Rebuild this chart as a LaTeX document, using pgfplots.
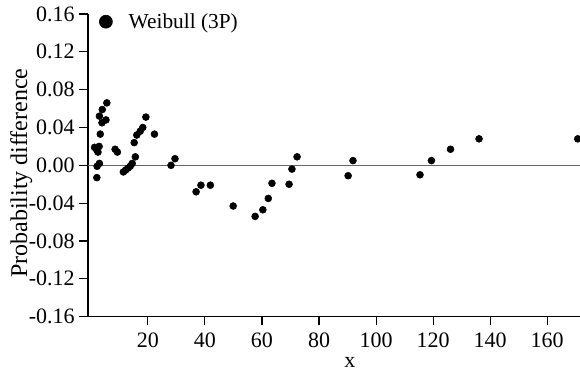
\documentclass[border=0pt]{standalone}
\usepackage{fontspec}
\setmainfont{Liberation Serif}
\usepackage{pgfplots}
\pgfplotsset{compat=1.18}
\begin{document}
\begin{tikzpicture}
\begin{axis}[
  scale only axis,
  width=369pt, height=227pt,
  xmin=-1, xmax=171.5,
  ymin=-0.16, ymax=0.16,
  axis x line*=bottom, axis y line*=left,
  tick align=outside,
  major tick length=6.5pt,
  xtick={20,40,60,80,100,120,140,160},
  ytick={-0.16,-0.12,-0.08,-0.04,0,0.04,0.08,0.12,0.16},
  y tick label style={/pgf/number format/fixed, /pgf/number format/fixed zerofill, /pgf/number format/precision=2},
  /pgf/number format/assume math mode=true,
  tick label style={font=\fontsize{16.5}{18}\selectfont},
  xticklabel style={yshift=-2pt},
  xlabel={x}, ylabel={Probability difference},
  xlabel style={font=\fontsize{16.5}{18}\selectfont, at={(rel axis cs:0.5325,0)}, anchor=base, yshift=-38pt},
  ylabel style={font=\fontsize{18}{20}\selectfont, at={(rel axis cs:0,0.474)}, anchor=center, yshift=50pt},
  axis line style={black, line width=0.8pt},
  tick style={black, line width=0.8pt},
  clip=false,
  legend style={draw=none, fill=none, at={(rel axis cs:0.022,1.012)}, anchor=north west, font=\fontsize{16}{18}\selectfont, inner sep=0pt},
  legend cell align=left,
  legend image code/.code={\fill[black] (0.2cm,0) circle (4.9pt);},
]
\addplot[gray!80!black, line width=0.9pt, forget plot] coordinates {(-1,0) (171.5,0)};
\addplot[only marks, mark=*, mark size=2.6pt, black] coordinates {
(1.3,0.019) (2.1,0.016) (2.9,0.020) (2.5,0.014) (2.2,-0.001) (3.0,0.002) (2.1,-0.013)
(3.3,0.033) (3.0,0.052) (4.0,0.059) (5.6,0.066) (3.9,0.045) (5.3,0.048)
(8.5,0.017) (9.3,0.014) (11.4,-0.007) (12.2,-0.005) (13.0,-0.003) (13.8,-0.001)
(14.5,0.002) (15.6,0.009) (15.2,0.024) (16.1,0.032) (17.3,0.036) (18.2,0.040)
(19.3,0.051) (22.3,0.033) (28.1,0.000) (29.5,0.007) (36.9,-0.028) (38.6,-0.021)
(41.9,-0.021) (49.9,-0.043) (57.6,-0.054) (60.3,-0.047) (62.2,-0.035) (63.5,-0.019)
(69.5,-0.020) (70.5,-0.004) (72.3,0.009) (90.2,-0.011) (91.9,0.005) (115.4,-0.010)
(119.4,0.005) (126.1,0.017) (136.1,0.028) (170.7,0.028)
};
\addlegendentry{\hspace{10pt}Weibull (3P)}
\end{axis}
\pgfresetboundingbox
\path ([xshift=-66pt, yshift=-42pt]current axis.south west) rectangle ([yshift=10.5pt]current axis.north east);
\end{tikzpicture}
\end{document}
